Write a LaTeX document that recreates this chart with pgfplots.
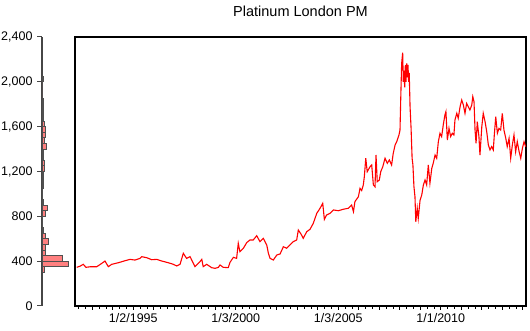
\documentclass[border=0pt]{standalone}
\usepackage{pgfplots}
\pgfplotsset{compat=1.18}
\usepackage{fontspec}
\setmainfont{Liberation Sans}
\definecolor{histfill}{RGB}{255,128,128}
\definecolor{histedge}{RGB}{80,80,80}
\definecolor{axgray}{RGB}{70,70,70}
\begin{document}
\begin{tikzpicture}[x=1pt,y=1pt]
\useasboundingbox (0,0) rectangle (530,331);
% histogram panel
\begin{axis}[
  at={(42pt,25pt)}, anchor=south west, scale only axis,
  width=28pt, height=269pt,
  xmin=0, xmax=1120, ymin=0, ymax=2400,
  axis x line=none, axis y line*=left,
  y axis line style={axgray, line width=1.2pt, -},
  ytick={0,400,...,2400},
  tick align=outside, major tick length=5pt,
  ytick style={axgray, line width=1pt},
  /pgf/number format/assume math mode=true,
  /pgf/number format/1000 sep={,},
  yticklabel style={font=\fontsize{12.5}{14}\selectfont, anchor=east, xshift=-1pt},
]
\addplot[xbar interval, fill=histfill, draw=histedge, line width=0.8pt] coordinates {
(108,300) (1040,350) (800,400) (148,450) (148,500) (268,550) (148,600) (68,650)
(20,700) (20,750) (148,800) (228,850) (68,900) (20,950) (20,1000) (68,1050)
(68,1100) (68,1150) (108,1200) (108,1250) (68,1300) (68,1350) (188,1400) (108,1450)
(148,1500) (148,1550) (108,1600) (68,1650) (68,1700) (68,1750) (68,1800) (0,1850)
(0,1900) (0,1950) (40,2000) (0,2050)};
\end{axis}
% main line panel
\begin{axis}[
  at={(75pt,25pt)}, anchor=south west, scale only axis,
  width=451pt, height=269pt,
  xmin=1992.156, xmax=2014.156, ymin=0, ymax=2400,
  axis line style={black, line width=1.2pt},
  ytick=\empty,
  xtick pos=bottom,
  tick align=outside,
  major tick length=4pt, minor tick length=3pt,
  xtick={1993,1994,...,2014},
  xticklabels={,,1/2/1995,,,,,1/3/2000,,,,,1/3/2005,,,,,1/1/2010,,,,},
  minor xtick={1992.3333,1992.6667,...,2014.1},
  xtick style={black, line width=0.8pt},
  xticklabel style={font=\fontsize{12.5}{14}\selectfont},
  title={Platinum London PM},
  title style={font=\fontsize{14.5}{16}\selectfont, at={(0.5,1)}, anchor=center, yshift=20pt},
]
\addplot[red, line width=1.1pt] coordinates {
(1992.24,345) (1992.40,355) (1992.56,372) (1992.69,345) (1992.89,350) (1993.21,350)
(1993.38,370) (1993.62,401) (1993.78,351) (1993.95,372) (1994.27,386) (1994.60,404)
(1994.84,416) (1995.08,410) (1995.33,425) (1995.41,440) (1995.65,431) (1995.90,413)
(1996.14,416) (1996.39,401) (1996.71,386) (1996.95,372) (1997.12,357) (1997.28,372)
(1997.44,470) (1997.60,425) (1997.77,440) (1997.93,381) (1998.01,351) (1998.25,395)
(1998.34,416) (1998.41,351) (1998.58,372) (1998.82,342) (1998.99,336) (1999.15,345)
(1999.23,366) (1999.39,345) (1999.63,342) (1999.72,390) (1999.88,434)
(2000.04,425) (2000.12,559) (2000.20,485) (2000.37,515) (2000.53,565) (2000.69,589)
(2000.85,589) (2001.02,627) (2001.18,574) (2001.34,604) (2001.51,544) (2001.59,470)
(2001.67,425) (2001.83,410) (2002.00,455) (2002.16,464) (2002.32,529) (2002.48,515)
(2002.64,544) (2002.80,574) (2002.97,589) (2003.05,678) (2003.21,633) (2003.29,604)
(2003.46,663) (2003.62,684) (2003.78,738) (2003.95,827) (2004.11,872) (2004.24,916)
(2004.32,773) (2004.43,812) (2004.60,827) (2004.76,857) (2005.00,850) (2005.24,863)
(2005.49,872) (2005.65,901) (2005.74,841) (2005.81,931) (2005.98,975) (2006.06,1050)
(2006.14,1030) (2006.22,1080) (2006.27,1154) (2006.34,1318) (2006.41,1198) (2006.55,1243)
(2006.63,1258) (2006.71,1080) (2006.79,1064) (2006.84,1347) (2006.90,1109) (2007.00,1124)
(2007.07,1198) (2007.17,1243) (2007.28,1318) (2007.39,1273) (2007.49,1303) (2007.60,1258)
(2007.68,1362) (2007.77,1436) (2007.85,1466) (2007.96,1526) (2008.01,1570) (2008.04,1808)
(2008.09,2165) (2008.14,2260) (2008.17,2000) (2008.20,2100) (2008.24,1950) (2008.27,2150)
(2008.30,2000) (2008.34,2165) (2008.37,2040) (2008.40,2150) (2008.43,2000) (2008.46,2080)
(2008.50,1778) (2008.55,1585) (2008.60,1318) (2008.64,1258) (2008.69,1064) (2008.74,975)
(2008.78,752) (2008.85,872) (2008.90,782) (2008.99,946) (2009.07,990) (2009.15,1080)
(2009.23,1124) (2009.31,1080) (2009.39,1258) (2009.47,1095) (2009.56,1228) (2009.63,1273)
(2009.72,1347) (2009.80,1318) (2009.88,1466) (2009.96,1541) (2010.04,1511) (2010.12,1615)
(2010.20,1704) (2010.25,1734) (2010.32,1481) (2010.40,1585) (2010.48,1511) (2010.56,1541)
(2010.64,1526) (2010.69,1660) (2010.78,1719) (2010.85,1675) (2010.94,1778) (2011.02,1838)
(2011.10,1793) (2011.18,1719) (2011.26,1808) (2011.34,1778) (2011.42,1749) (2011.51,1793)
(2011.56,1868) (2011.62,1823) (2011.67,1570) (2011.72,1452) (2011.78,1644) (2011.86,1511)
(2011.91,1347) (2012.00,1600) (2012.07,1719) (2012.16,1644) (2012.24,1555) (2012.32,1436)
(2012.40,1392) (2012.48,1422) (2012.56,1392) (2012.61,1526) (2012.68,1689) (2012.76,1541)
(2012.84,1585) (2012.92,1570) (2013.00,1719) (2013.08,1570) (2013.17,1496) (2013.24,1422)
(2013.33,1496) (2013.41,1318) (2013.49,1436) (2013.57,1526) (2013.65,1377) (2013.73,1466)
(2013.82,1377) (2013.90,1318) (2013.98,1407) (2014.06,1466) (2014.14,1422)};
\end{axis}
\end{tikzpicture}
\end{document}
